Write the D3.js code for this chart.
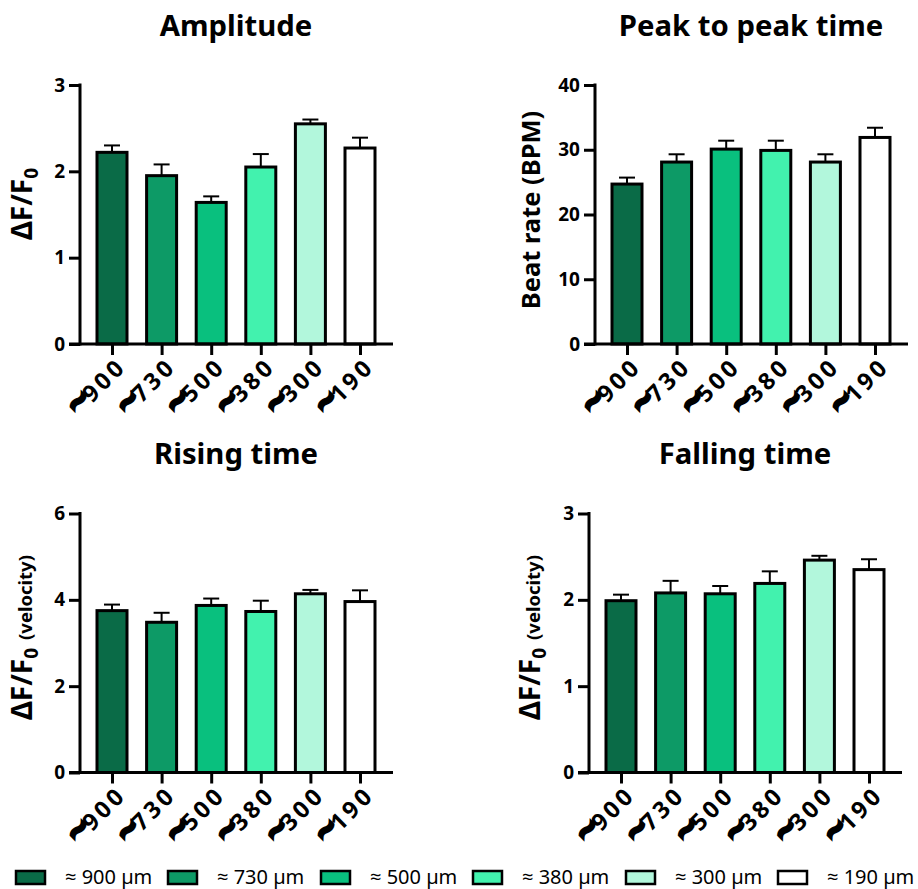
<!DOCTYPE html>
<html>
<head>
<meta charset="utf-8">
<script src="https://cdn.jsdelivr.net/npm/d3@7"></script>
<style>
body { margin: 0; background: #fff; }
svg { display: block; }
text { font-family: "Noto Sans", "Open Sans", sans-serif; fill: #000; }
</style>
</head>
<body>
<div id="chart"></div>
<script>
var categories = ["900", "730", "500", "380", "300", "190"];
var legendLabels = ["≈ 900 µm", "≈ 730 µm", "≈ 500 µm", "≈ 380 µm", "≈ 300 µm", "≈ 190 µm"];
var colors = ["#0a6b47", "#0d9a66", "#09c07e", "#42f2ae", "#b2f7dc", "#ffffff"];

var amplitude = [2.22, 1.95, 1.64, 2.05, 2.55, 2.27];
var amplitudeTop = [2.30, 2.08, 1.71, 2.20, 2.60, 2.39];
var peak = [24.7, 28.1, 30.1, 29.9, 28.1, 31.9];
var peakTop = [25.7, 29.3, 31.4, 31.4, 29.3, 33.4];
var rising = [3.75, 3.48, 3.87, 3.73, 4.14, 3.96];
var risingTop = [3.89, 3.70, 4.03, 3.98, 4.23, 4.22];
var falling = [1.99, 2.08, 2.07, 2.19, 2.46, 2.35];
var fallingTop = [2.06, 2.22, 2.16, 2.33, 2.51, 2.47];

var legendSwatchX = [16, 168, 321, 473, 626, 778];

var svg = d3.select("#chart").append("svg").attr("width", 918).attr("height", 889);

//one panel of the figure
function panel(o){
    var g = svg.append("g").attr("transform", "translate(" + o.left + "," + o.top + ")");
    var width = 313, height = 259;

    var x = d3.scalePoint().domain(categories).range([32, 280]);
    var y = d3.scaleLinear().domain([0, o.max]).range([height, 0]);

    svg.append("text")
        .attr("x", o.titleX).attr("y", o.titleY)
        .attr("text-anchor", "middle")
        .style("font-size", "29.3px").style("font-weight", 700)
        .text(o.title);

    var data = categories.map(function(c, i){
        return {c: c, v: o.values[i], top: o.tops[i], color: colors[i]};
    });

    // error bars first so the bar covers the lower part
    g.selectAll(".err").data(data).enter().append("line")
        .attr("x1", function(d){ return x(d.c); })
        .attr("x2", function(d){ return x(d.c); })
        .attr("y1", function(d){ return y(d.v); })
        .attr("y2", function(d){ return y(d.top); })
        .attr("stroke", "#000").attr("stroke-width", 2);
    g.selectAll(".cap").data(data).enter().append("line")
        .attr("x1", function(d){ return x(d.c) - 8; })
        .attr("x2", function(d){ return x(d.c) + 8; })
        .attr("y1", function(d){ return y(d.top); })
        .attr("y2", function(d){ return y(d.top); })
        .attr("stroke", "#000").attr("stroke-width", 2);

    g.selectAll(".bar").data(data).enter().append("rect")
        .attr("x", function(d){ return x(d.c) - 15; })
        .attr("y", function(d){ return y(d.v); })
        .attr("width", 30)
        .attr("height", function(d){ return height - y(d.v); })
        .attr("fill", function(d){ return d.color; })
        .attr("stroke", "#000").attr("stroke-width", 3);

    // axes
    var yAxis = g.append("g").call(d3.axisLeft(y).tickValues(o.ticks).tickSize(11).tickPadding(4).tickFormat(d3.format("d")));
    yAxis.selectAll("path").attr("d", "M0," + (height + 1.5) + "V-1.5").attr("stroke", "#000").attr("stroke-width", 3);
    yAxis.selectAll("line").attr("stroke", "#000").attr("stroke-width", 3);
    yAxis.selectAll("text").style("font-size", "19px").style("font-weight", 700)
        .style("font-family", '"Noto Sans", sans-serif').attr("fill", "#000");

    var xAxis = g.append("g").attr("transform", "translate(0," + height + ")")
        .call(d3.axisBottom(x).tickSize(11).tickFormat(""));
    xAxis.selectAll("path").attr("d", "M-11,0H" + width).attr("stroke", "#000").attr("stroke-width", 3);
    xAxis.selectAll("line").attr("stroke", "#000").attr("stroke-width", 3);

    // rotated labels, digits and the heavy tilde are placed on their own
    g.selectAll(".xtilde").data(data).enter().append("text")
        .attr("class", "xtilde")
        .attr("transform", function(d){ return "translate(" + (x(d.c) - 33) + "," + (height + 58) + ") rotate(-45)"; })
        .attr("text-anchor", "middle")
        .attr("dy", "0.32em")
        .attr("stroke", "#000").attr("stroke-width", 3)
        .style("font-size", "36px").style("font-weight", 700)
        .text("~");
    g.selectAll(".xlab").data(data).enter().append("text")
        .attr("class", "xlab")
        .attr("transform", function(d){ return "translate(" + (x(d.c) + 10) + "," + (height + 18) + ") rotate(-45)"; })
        .attr("text-anchor", "end")
        .attr("dy", "0.35em")
        .style("font-size", "23.5px").style("font-weight", 700).style("letter-spacing", "3.5px")
        .text(function(d){ return d.c; });

    // y title
    var t = svg.append("text")
        .attr("transform", "translate(" + o.labelX + "," + (o.top + o.labelY) + ") rotate(-90)")
        .attr("text-anchor", "middle")
        .style("font-size", o.labelSize).style("font-weight", 700);
    o.label(t);
}

function dfLabel(t, suffix){
    t.append("tspan").text("ΔF/F");
    t.append("tspan").attr("dy", 6).style("font-size", "19px").text("0");
    if(suffix){
        t.append("tspan").attr("dy", -6).attr("dx", 8).style("font-size", "18.5px").text(suffix);
    }
}

panel({title: "Amplitude", titleX: 236, titleY: 36, left: 80, top: 85, max: 3, ticks: [0, 1, 2, 3],
    values: amplitude, tops: amplitudeTop, labelX: 32, labelY: 119, labelSize: "28px",
    label: function(t){ dfLabel(t); }});
panel({title: "Peak to peak time", titleX: 751, titleY: 36, left: 595, top: 85, max: 40, ticks: [0, 10, 20, 30, 40],
    values: peak, tops: peakTop, labelX: 540, labelY: 125, labelSize: "25.5px",
    label: function(t){ t.text("Beat rate (BPM)"); }});
panel({title: "Rising time", titleX: 236, titleY: 464, left: 80, top: 513.5, max: 6, ticks: [0, 2, 4, 6],
    values: rising, tops: risingTop, labelX: 32, labelY: 124, labelSize: "28px",
    label: function(t){ dfLabel(t, "(velocity)"); }});
panel({title: "Falling time", titleX: 745, titleY: 464, left: 589, top: 513.5, max: 3, ticks: [0, 1, 2, 3],
    values: falling, tops: fallingTop, labelX: 540, labelY: 124, labelSize: "28px",
    label: function(t){ dfLabel(t, "(velocity)"); }});

// legend
legendLabels.forEach(function(l, i){
    svg.append("rect")
        .attr("x", legendSwatchX[i]).attr("y", 871)
        .attr("width", 29).attr("height", 13)
        .attr("fill", colors[i]).attr("stroke", "#000").attr("stroke-width", 2.5);
    svg.append("text")
        .attr("x", legendSwatchX[i] + 49).attr("y", 884)
        .style("font-size", "20px")
        .text(l);
});
</script>
</body>
</html>
